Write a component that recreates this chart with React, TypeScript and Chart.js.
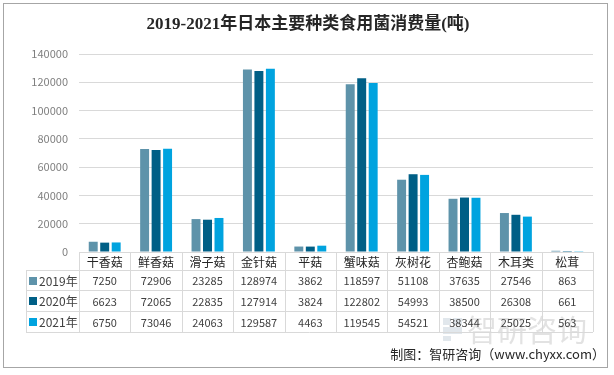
import React, { useEffect, useRef } from 'react';
import { Chart, registerables } from 'chart.js';
Chart.register(...registerables);

const titleText = '2019-2021年日本主要种类食用菌消费量(吨)';
const sourceText = '制图：智研咨询（www.chyxx.com）';
const watermarkText = '智研咨询';
const categories = ['干香菇', '鲜香菇', '滑子菇', '金针菇', '平菇', '蟹味菇', '灰树花', '杏鲍菇', '木耳类', '松茸'];
const seriesNames = ['2019年', '2020年', '2021年'];
const values2019 = [7250, 72906, 23285, 128974, 3862, 118597, 51108, 37635, 27546, 863];
const values2020 = [6623, 72065, 22835, 127914, 3824, 122802, 54993, 38500, 26308, 661];
const values2021 = [6750, 73046, 24063, 129587, 4463, 119545, 54521, 38344, 25025, 563];
const yMin = 0;
const yMax = 140000;
const yStep = 20000;
const seriesColors = ['#5E93AA', '#005F86', '#00A3DF'];

const W = 614;
const H = 375;
const CJK = '"Noto Sans CJK SC", "Noto Sans", sans-serif';

const decorPlugin = {
  id: 'decor',
  beforeDraw(chart: any) {
    const ctx = chart.ctx;
    ctx.save();
    ctx.fillStyle = '#ffffff';
    ctx.fillRect(0, 0, chart.width, chart.height);
    ctx.strokeStyle = '#a6a6a6';
    ctx.lineWidth = 1;
    ctx.strokeRect(3.5, 3.5, 604, 364);
    ctx.restore();
  },
  afterDraw(chart: any) {
    const ctx = chart.ctx;
    const area = chart.chartArea;
    const xs = chart.scales.x;
    const n = categories.length;
    const cw = (area.right - area.left) / n;
    const rows = [area.bottom, area.bottom + 18, area.bottom + 38, area.bottom + 59, area.bottom + 80];
    const legendLeft = 26;
    ctx.save();

    // watermark
    ctx.fillStyle = 'rgba(170,185,200,0.35)';
    ctx.fillRect(443, 318, 8, 7);
    ctx.fillRect(453, 318, 9, 7);
    ctx.fillRect(443, 327, 19, 7);
    ctx.fillRect(443, 336, 8, 5);
    ctx.fillStyle = 'rgba(160,160,160,0.3)';
    ctx.font = '30px ' + CJK;
    ctx.textAlign = 'left';
    ctx.textBaseline = 'middle';
    ctx.fillText(watermarkText, 467, 330);

    // table lines
    ctx.strokeStyle = '#d9d9d9';
    ctx.lineWidth = 1;
    ctx.beginPath();
    for (let i = 0; i <= n; i++) {
      const x = Math.round(area.left + i * cw) + 0.5;
      ctx.moveTo(x, rows[0]);
      ctx.lineTo(x, rows[4]);
    }
    ctx.moveTo(legendLeft + 0.5, rows[1]);
    ctx.lineTo(legendLeft + 0.5, rows[4]);
    for (let r = 1; r <= 4; r++) {
      const y = Math.round(rows[r]) + 0.5;
      ctx.moveTo(legendLeft, y);
      ctx.lineTo(area.right, y);
    }
    ctx.stroke();

    // header
    ctx.fillStyle = '#262626';
    ctx.font = '12px ' + CJK;
    ctx.textAlign = 'center';
    ctx.textBaseline = 'middle';
    categories.forEach((c, i) => {
      ctx.fillText(c, xs.getPixelForValue(i), (rows[0] + rows[1]) / 2 + 1);
    });

    // rows
    const data = [values2019, values2020, values2021];
    data.forEach((vals, r) => {
      const cy = (rows[r + 1] + rows[r + 2]) / 2 + 1;
      ctx.font = '11px ' + CJK;
      ctx.fillStyle = '#404040';
      ctx.textAlign = 'center';
      vals.forEach((v, i) => {
        ctx.fillText(String(v), xs.getPixelForValue(i), cy);
      });
      ctx.fillStyle = seriesColors[r];
      ctx.fillRect(29, Math.round(cy - 4.5), 8, 8);
      ctx.fillStyle = '#404040';
      ctx.textAlign = 'left';
      ctx.font = '12px ' + CJK;
      ctx.fillText(seriesNames[r], 39, cy);
    });

    // title
    ctx.fillStyle = '#262626';
    ctx.font = 'bold 17px "Liberation Serif", "Noto Sans CJK SC", serif';
    ctx.textAlign = 'center';
    ctx.textBaseline = 'middle';
    ctx.fillText(titleText, 308, 25);

    // source
    ctx.fillStyle = '#262626';
    ctx.font = '13px ' + CJK;
    ctx.textAlign = 'right';
    ctx.fillText(sourceText, 605, 354);
    ctx.restore();
  },
};

export default function App() {
  const ref = useRef<HTMLCanvasElement>(null);
  useEffect(() => {
    if (!ref.current) return;
    const chart = new Chart(ref.current, {
      type: 'bar',
      data: {
        labels: categories,
        datasets: [
          { label: seriesNames[0], data: values2019, backgroundColor: seriesColors[0] },
          { label: seriesNames[1], data: values2020, backgroundColor: seriesColors[1] },
          { label: seriesNames[2], data: values2021, backgroundColor: seriesColors[2] },
        ],
      },
      options: {
        responsive: false,
        animation: false,
        devicePixelRatio: 1,
        layout: { padding: { left: 0, top: 54, right: 21, bottom: 123 } },
        datasets: { bar: { categoryPercentage: 0.67, barPercentage: 0.78 } },
        plugins: { legend: { display: false }, tooltip: { enabled: false }, title: { display: false } },
        scales: {
          x: { display: false },
          y: {
            min: yMin,
            max: yMax,
            border: { display: false },
            grid: { color: '#d9d9d9', drawTicks: false },
            ticks: {
              stepSize: yStep,
              padding: 11,
              color: '#7f7f7f',
              font: { size: 11, family: CJK },
              callback: (v: any) => String(v),
            },
            afterFit: (s: any) => { s.width = 79; },
          },
        },
      },
      plugins: [decorPlugin],
    } as any);
    return () => chart.destroy();
  }, []);
  return (
    <div style={{ position: 'fixed', left: 0, top: 0, width: W, height: H, background: '#fff' }}>
      <canvas ref={ref} width={W} height={H} style={{ display: 'block' }} />
    </div>
  );
}
